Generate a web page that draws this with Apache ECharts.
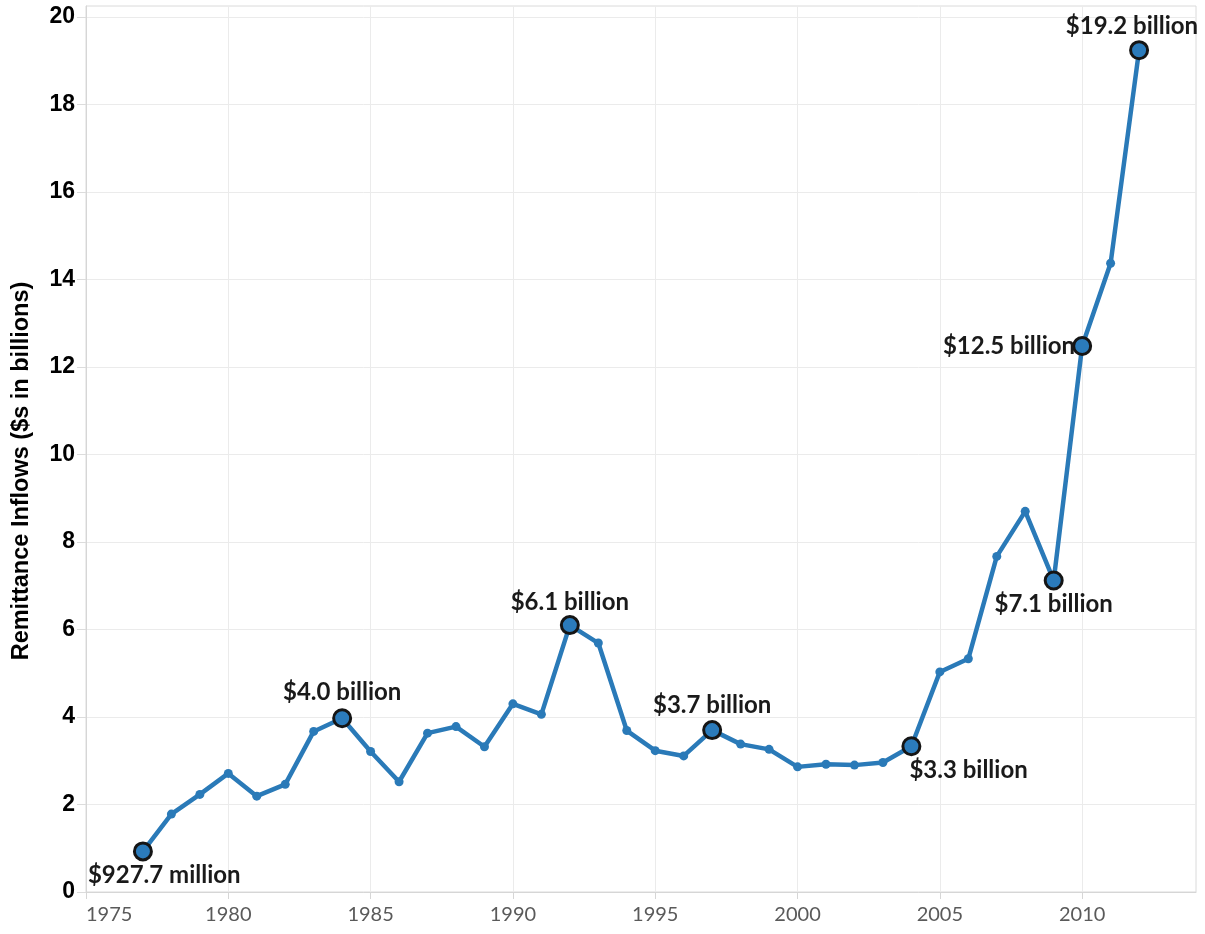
<!DOCTYPE html>
<html>
<head>
<meta charset="utf-8">
<script src="https://cdn.jsdelivr.net/npm/echarts@6/dist/echarts.min.js"></script>
<style>
html,body{margin:0;padding:0;background:#fff;}
#chart{width:1205px;height:934px;}
</style>
</head>
<body>
<div id="chart"></div>
<script>
// ---- data ----
var years = [1977,1978,1979,1980,1981,1982,1983,1984,1985,1986,1987,1988,1989,1990,1991,1992,1993,1994,1995,1996,1997,1998,1999,2000,2001,2002,2003,2004,2005,2006,2007,2008,2009,2010,2011,2012];
var inflows = [0.928,1.78,2.23,2.71,2.19,2.46,3.67,3.97,3.21,2.52,3.63,3.78,3.32,4.30,4.06,6.10,5.69,3.69,3.23,3.11,3.70,3.38,3.26,2.86,2.92,2.90,2.96,3.33,5.03,5.33,7.67,8.70,7.12,12.48,14.37,19.24];
var highlightYears = [1977,1984,1992,1997,2004,2009,2010,2012];
var highlightLabels = ['$927.7 million','$4.0 billion','$6.1 billion','$3.7 billion','$3.3 billion','$7.1 billion','$12.5 billion','$19.2 billion'];
var xTicks = [1975,1980,1985,1990,1995,2000,2005,2010];
var yTicks = [0,2,4,6,8,10,12,14,16,18,20];
var yTitle = 'Remittance Inflows ($s in billions)';

// ---- label styling per highlighted point ----
var labelStyle = {
  1977: {position:'bottom', align:'left', offset:[-55,0], distance:2},
  1984: {position:'top', distance:4},
  1992: {position:'top', distance:1},
  1997: {position:'top', distance:3},
  2004: {position:'bottom', align:'left', offset:[-2,0], distance:2},
  2009: {position:'bottom', distance:2},
  2010: {position:'left', distance:-3},
  2012: {position:'top', align:'right', offset:[59,0], distance:2}
};

var lineColor = '#2a7ab8';
var data = years.map(function(y, i){
  var idx = highlightYears.indexOf(y);
  if (idx < 0) return [y, inflows[i]];
  var ls = labelStyle[y];
  var lab = {
    show:true,
    formatter: highlightLabels[idx],
    position: ls.position,
    distance: ls.distance,
    color:'#1a1a1a',
    fontFamily:'Lato',
    fontWeight:'bold',
    fontSize:24
  };
  if (ls.align) lab.align = ls.align;
  if (ls.offset) lab.offset = ls.offset;
  return {
    value:[y, inflows[i]],
    symbolSize:17,
    itemStyle:{color:'#2b7bbb', borderColor:'#151515', borderWidth:3},
    label:lab
  };
});

var chart = echarts.init(document.getElementById('chart'), null, {renderer:'canvas'});
chart.setOption({
  animation:false,
  backgroundColor:'#ffffff',
  grid:{left:86, right:9, top:6, bottom:42, show:true, borderColor:'#dadada', borderWidth:1, containLabel:false, outerBoundsMode:'none'},
  graphic:[{
    type:'text', x:22, y:471, rotation:Math.PI/2, z:10,
    style:{text:yTitle, align:'center', verticalAlign:'middle', fill:'#000',
      font:'bold 23.5px "Liberation Sans", Arial, sans-serif'}
  }],
  xAxis:{
    type:'value', min:1975, max:2014, interval:5,
    axisLine:{show:true, lineStyle:{color:'#d6d6d6', width:1}},
    axisTick:{show:true, length:7, lineStyle:{color:'#d6d6d6'}, customValues:xTicks},
    axisLabel:{
      customValues:xTicks,
      alignMinLabel:'left',
      margin:13, color:'#5a5a5a', fontFamily:'Lato', fontSize:20,
      formatter:function(v){ return xTicks.indexOf(v) >= 0 ? String(v) : ''; }
    },
    splitLine:{show:true, lineStyle:{color:'#ebebeb', width:1}}
  },
  yAxis:{
    type:'value', min:0, max:20.25, interval:2,
    axisLine:{show:true, lineStyle:{color:'#d6d6d6', width:1}},
    axisTick:{show:true, length:9, lineStyle:{color:'#dcdcdc'}, customValues:yTicks},
    axisLabel:{
      customValues:yTicks,
      margin:11, color:'#000', fontFamily:'Liberation Sans, Arial', fontWeight:'bold', fontSize:23,
      formatter:function(v){ return yTicks.indexOf(v) >= 0 ? String(v) : ''; }
    },
    splitLine:{show:true, lineStyle:{color:'#ebebeb', width:1}}
  },
  series:[{
    type:'line',
    data:data,
    symbol:'circle',
    symbolSize:9,
    showAllSymbol:true,
    lineStyle:{color:lineColor, width:4.5},
    itemStyle:{color:lineColor},
    z:3
  }]
});
</script>
</body>
</html>
